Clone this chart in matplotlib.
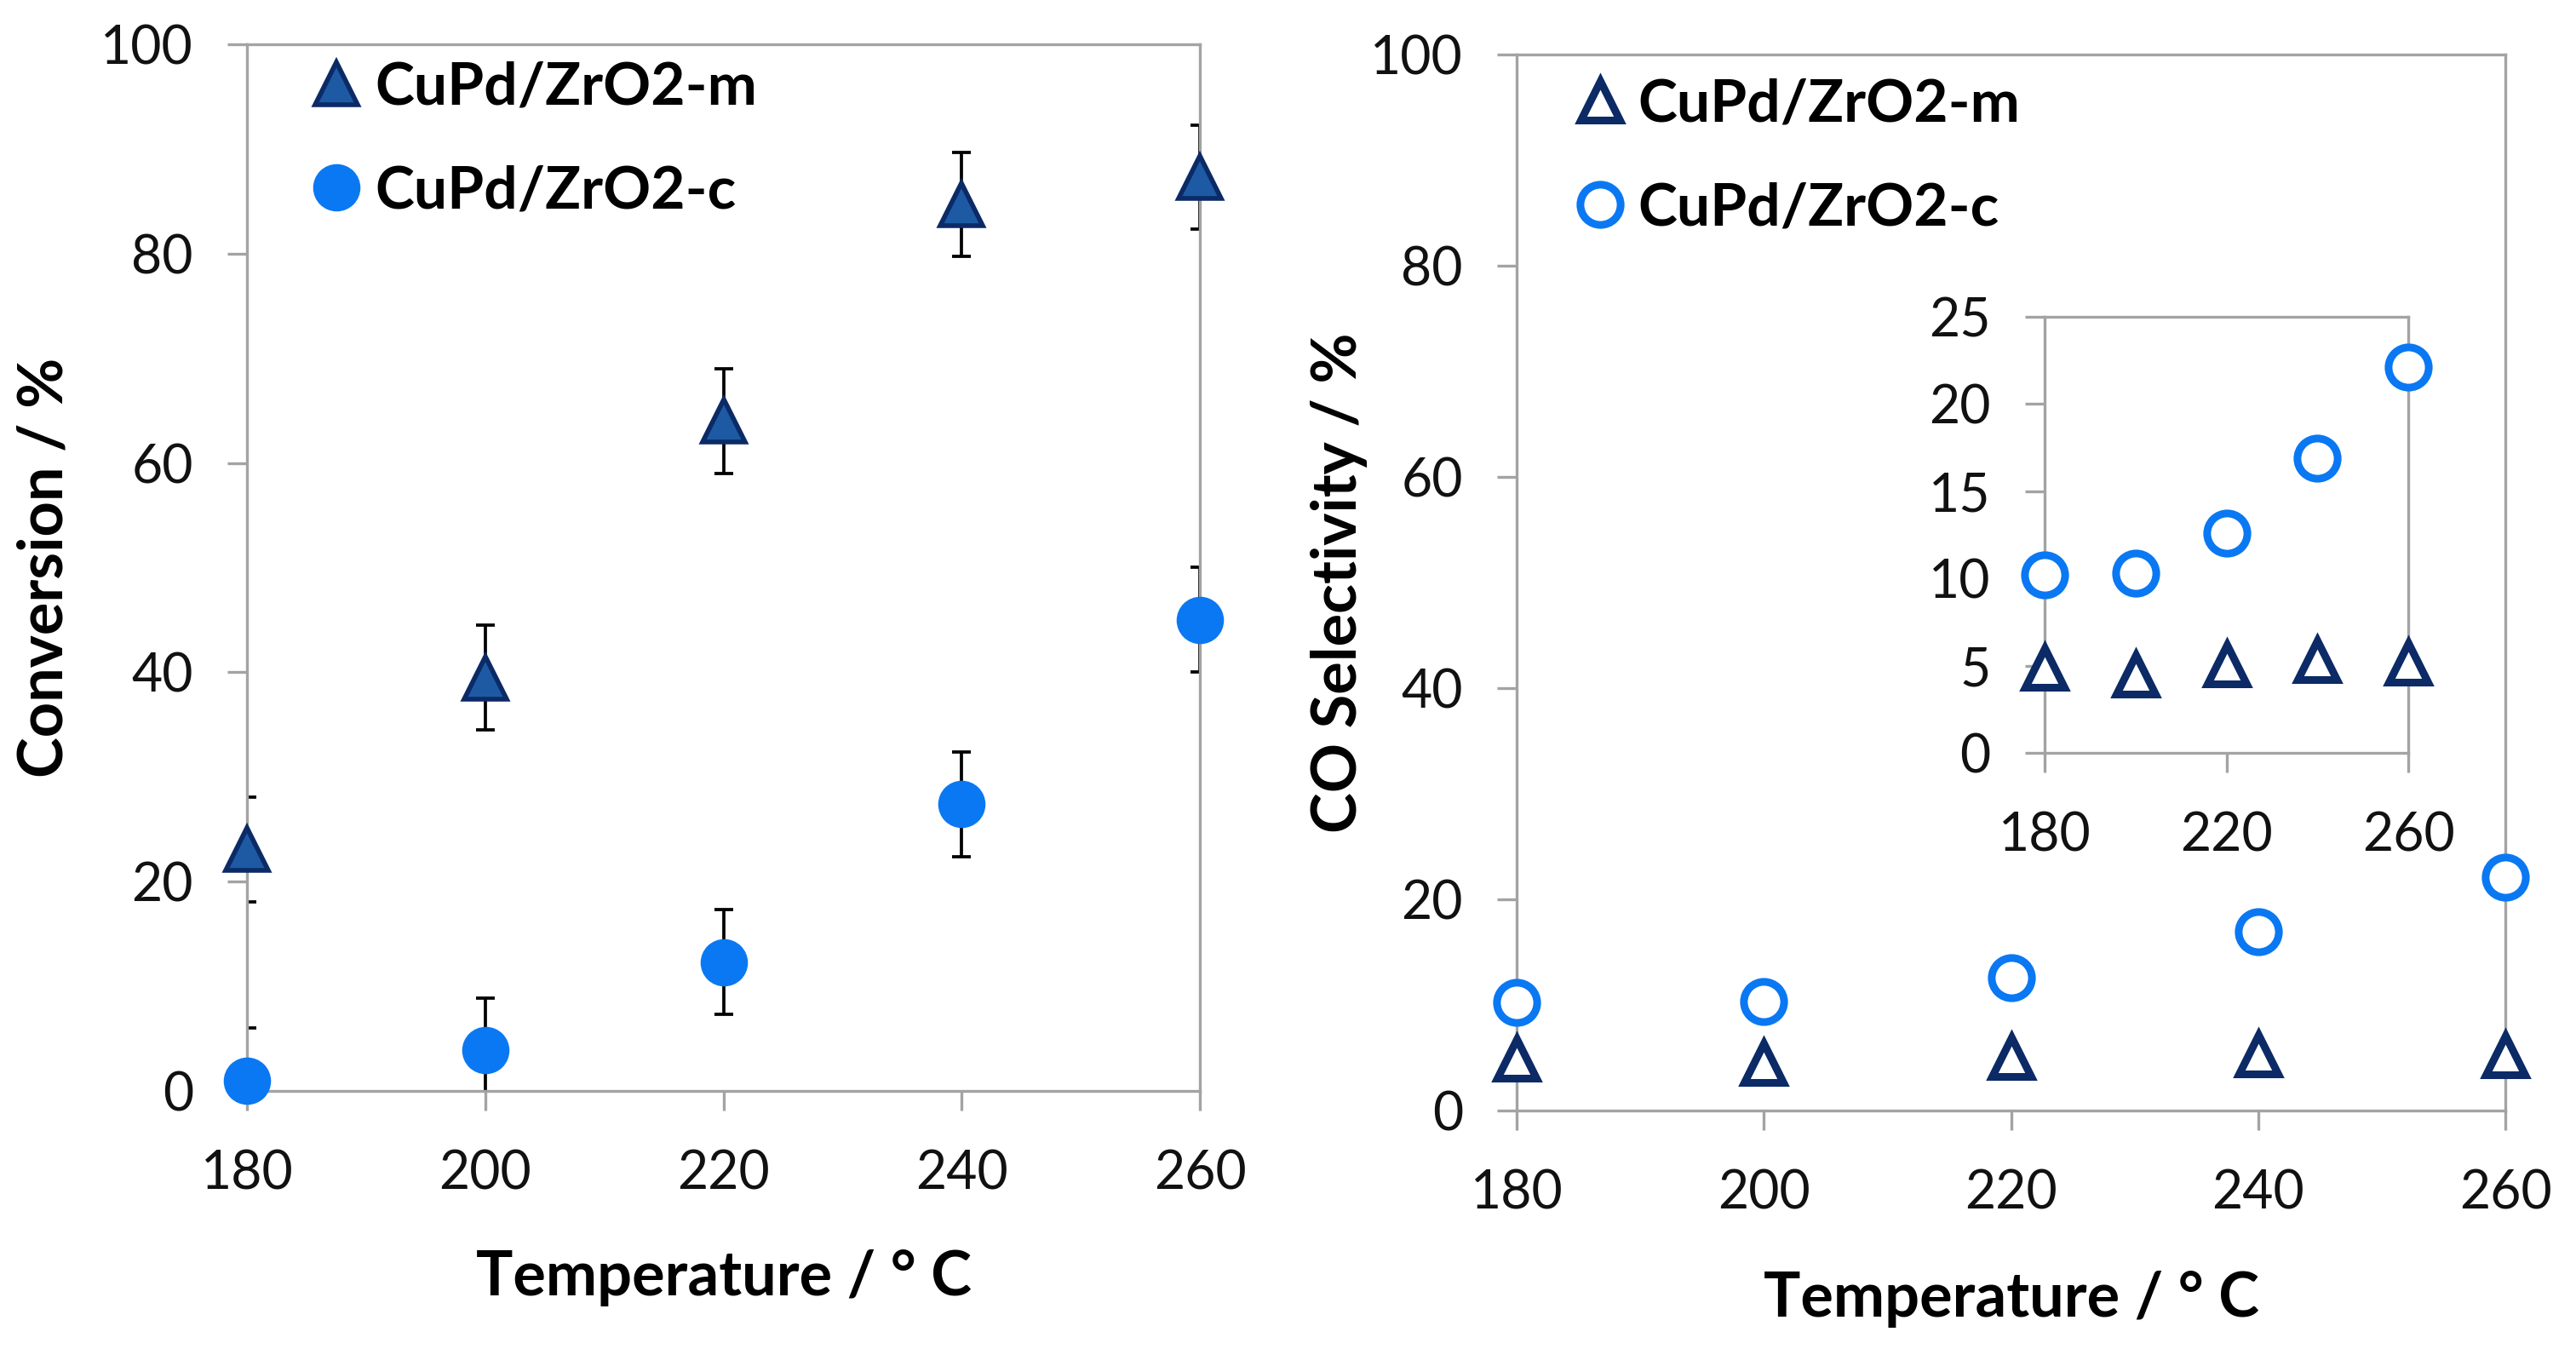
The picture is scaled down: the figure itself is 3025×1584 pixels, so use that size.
import matplotlib
matplotlib.use("Agg")
import matplotlib.pyplot as plt

plt.rcParams['font.family'] = ['Lato', 'DejaVu Sans']

# data
temps = [180, 200, 220, 240, 260]
conv_m = [23.1, 39.5, 64.0, 84.7, 87.3]
conv_c = [1.0, 3.9, 12.3, 27.4, 45.0]
conv_err = [5, 5, 5, 5, 5]
sel_m = [4.9, 4.5, 5.1, 5.3, 5.2]
sel_c = [10.2, 10.3, 12.6, 16.9, 22.1]
labels = ["CuPd/ZrO2-m", "CuPd/ZrO2-c"]

navy = "#0b2a66"
tri_fill = "#1d5aa3"
blue = "#0a78f2"
spine_gray = "#a3a3a3"

tick_fs = 45
label_fs = 52
legend_fs = 50


def style_axes(ax, xticks, yticks, ylim):
    ax.set_xlim(180, 260)
    ax.set_ylim(*ylim)
    ax.set_xticks(xticks)
    ax.set_yticks(yticks)
    for s in ax.spines.values():
        s.set_color(spine_gray)
        s.set_linewidth(2.4)
    ax.tick_params(direction="out", length=16.5, width=2.4, color=spine_gray,
                   labelsize=tick_fs, labelcolor="#111111")
    ax.tick_params(axis="x", pad=33)
    ax.tick_params(axis="y", pad=29)


fig = plt.figure(figsize=(30.25, 15.84), dpi=100)

# left panel: conversion
ax1 = fig.add_axes([0.0959, 0.1913, 0.3699, 0.7759])
style_axes(ax1, temps, range(0, 101, 20), (0, 100))
ax1.errorbar(temps, conv_m, yerr=conv_err, fmt="none", ecolor="#000000",
             elinewidth=2.7, capsize=8, capthick=2.7, zorder=2)
ax1.errorbar(temps, conv_c, yerr=conv_err, fmt="none", ecolor="#000000",
             elinewidth=2.7, capsize=8, capthick=2.7, zorder=2)
ax1.plot(temps, conv_m, linestyle="none", marker="^", markersize=36,
         markerfacecolor=tri_fill, markeredgecolor=navy, markeredgewidth=4,
         clip_on=False, zorder=4, label=labels[0])
ax1.plot(temps, conv_c, linestyle="none", marker="o", markersize=39,
         markerfacecolor=blue, markeredgecolor=blue, markeredgewidth=1,
         clip_on=False, zorder=4, label=labels[1])
ax1.set_xlabel("Temperature / ° C", fontsize=label_fs, fontweight="bold")
ax1.set_ylabel("Conversion / %", fontsize=label_fs, fontweight="bold")
ax1.xaxis.set_label_coords(0.5, -0.179)
ax1.xaxis.label.set_va("center")
ax1.yaxis.set_label_coords(-0.212, 0.5)
ax1.yaxis.label.set_va("center")
ax1.legend(loc="upper left", bbox_to_anchor=(0.066, 0.984), frameon=False,
           prop={"size": legend_fs, "weight": "bold"}, handlelength=0.9,
           handletextpad=0.2, labelspacing=0.85, borderpad=0, borderaxespad=0)

# right panel: CO selectivity
ax2 = fig.add_axes([0.5888, 0.1768, 0.3838, 0.7828])
style_axes(ax2, temps, range(0, 101, 20), (0, 100))
ax2.plot(temps, sel_m, linestyle="none", marker="^", markersize=33,
         markerfacecolor="white", markeredgecolor=navy, markeredgewidth=6.5,
         clip_on=False, zorder=4, label=labels[0])
ax2.plot(temps, sel_c, linestyle="none", marker="o", markersize=34,
         markerfacecolor="white", markeredgecolor=blue, markeredgewidth=6.5,
         clip_on=False, zorder=4, label=labels[1])
ax2.set_xlabel("Temperature / ° C", fontsize=label_fs, fontweight="bold")
ax2.set_ylabel("CO Selectivity / %", fontsize=label_fs, fontweight="bold")
ax2.xaxis.set_label_coords(0.5, -0.179)
ax2.xaxis.label.set_va("center")
ax2.yaxis.set_label_coords(-0.18, 0.5)
ax2.yaxis.label.set_va("center")
ax2.legend(loc="upper left", bbox_to_anchor=(0.057, 0.978), frameon=False,
           prop={"size": legend_fs, "weight": "bold"}, handlelength=0.9,
           handletextpad=0.2, labelspacing=0.85, borderpad=0, borderaxespad=0)

# inset with zoomed selectivity
ax3 = fig.add_axes([0.7937, 0.4419, 0.1412, 0.3233])
style_axes(ax3, [180, 220, 260], range(0, 26, 5), (0, 25))
ax3.plot(temps, sel_m, linestyle="none", marker="^", markersize=33,
         markerfacecolor="white", markeredgecolor=navy, markeredgewidth=6.5,
         clip_on=False, zorder=4)
ax3.plot(temps, sel_c, linestyle="none", marker="o", markersize=34,
         markerfacecolor="white", markeredgecolor=blue, markeredgewidth=6.5,
         clip_on=False, zorder=4)

fig.savefig("out.png", dpi=100)
